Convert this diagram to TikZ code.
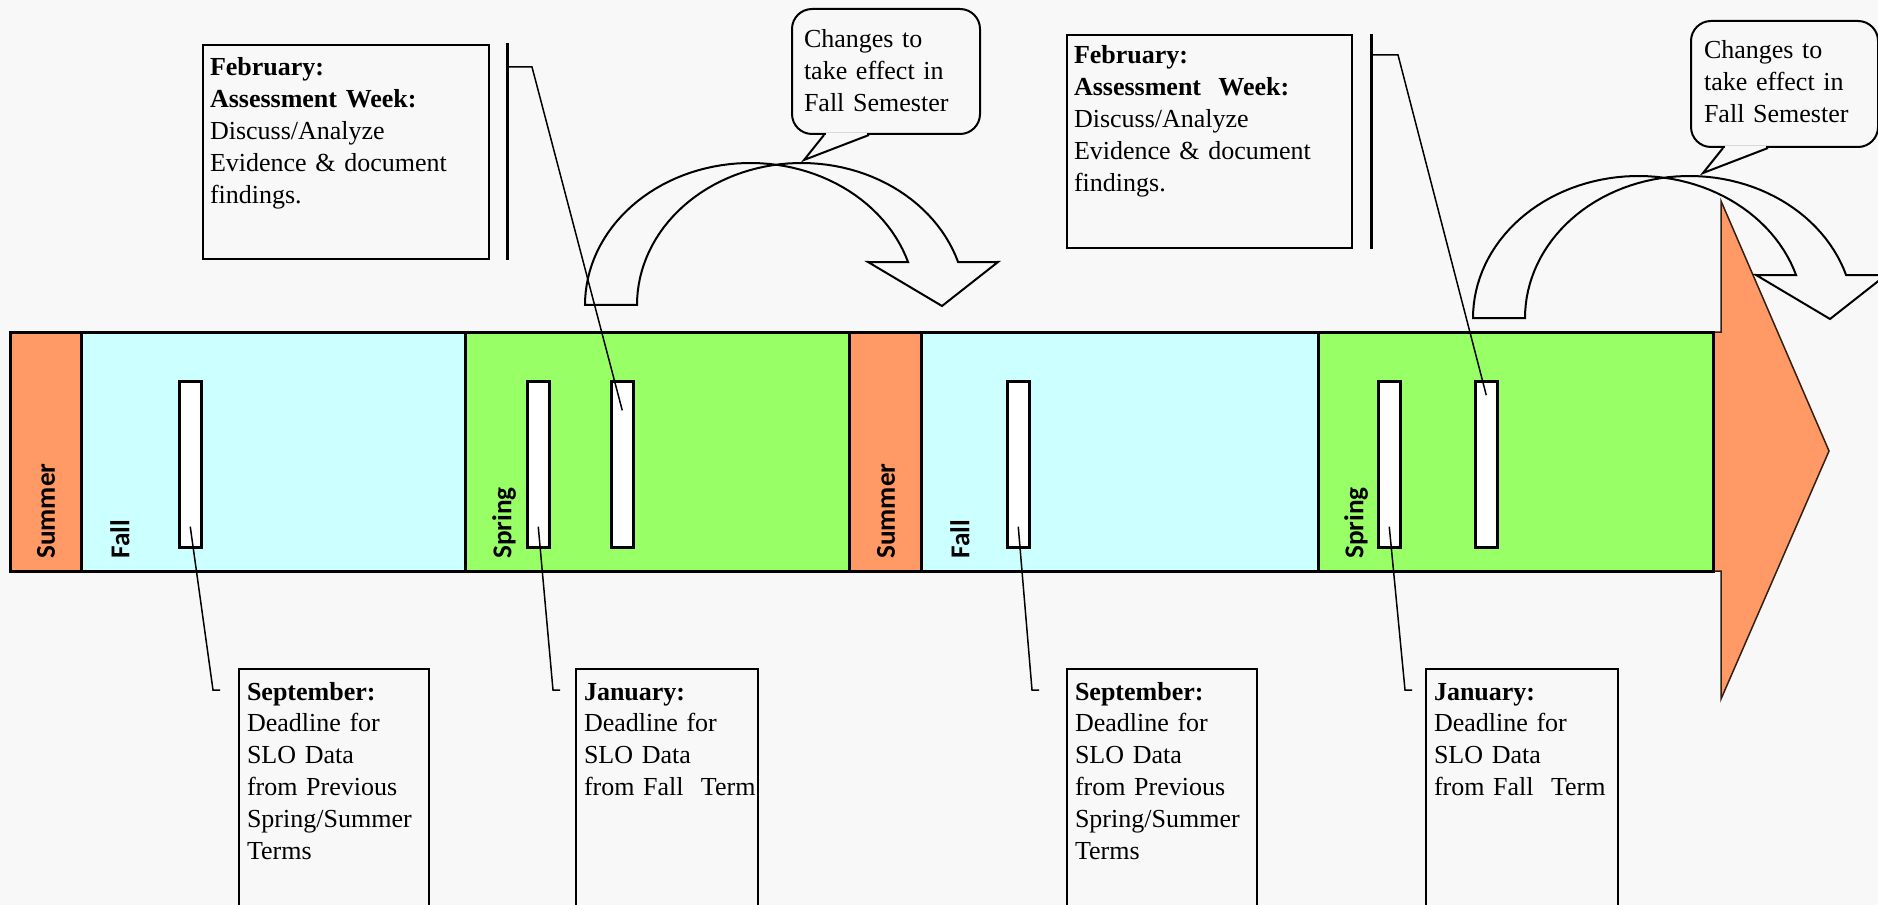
\documentclass[tikz,border=0pt]{standalone}
\usepackage{fontspec}
\setmainfont{Liberation Serif}
\newfontfamily\termfont{Carlito}
\usetikzlibrary{calc, positioning}

\definecolor{summerc}{HTML}{FF9966}
\definecolor{fallc}{HTML}{CCFFFF}
\definecolor{springc}{HTML}{99FF66}
\definecolor{backg}{HTML}{F8F8F8}

\newdimen\pxu
\pxu=0.02cm

\begin{document}
\begin{tikzpicture}[x=0.02cm, y=-0.02cm,
    seg/.style={draw, line width=3\pxu},
    datebar/.style={draw, fill=white, line width=2.5\pxu, anchor=north west,
        minimum width=22\pxu, minimum height=166\pxu, inner sep=0pt},
    term/.style={rotate=90, anchor=west, inner sep=0pt,
        font=\termfont\bfseries\fontsize{15.5}{17}\selectfont},
    note/.style={draw, line width=2\pxu, anchor=north west, align=left,
        inner xsep=8\pxu, inner ysep=0pt, text height=31\pxu,
        font=\fontsize{14.8}{18.2}\selectfont},
    bubble/.style={note, rounded corners=20\pxu, inner xsep=12\pxu},
    leader/.style={line width=1.5\pxu},
    bracket/.style={line width=3\pxu},
    bentarrow/.style={line width=2\pxu, line join=miter}]

    % Page
    \useasboundingbox (0,0) rectangle (1878,905);
    \clip (0,0) rectangle (1878,905);
    \fill[backg] (0,0) rectangle (1878,905);

    % Timeline arrow head
    \filldraw[fill=summerc, draw=black!80!summerc, line width=1.5\pxu]
        (1700,332) -- (1721,332) -- (1721,201) -- (1829,451)
        -- (1721,699) -- (1721,571) -- (1700,571) -- cycle;

    % Terms
    \filldraw[seg, fill=summerc] (10,332) rectangle (81,571);
    \filldraw[seg, fill=fallc] (81,332) rectangle (465,571);
    \filldraw[seg, fill=springc] (465,332) rectangle (849,571);
    \filldraw[seg, fill=summerc] (849,332) rectangle (921,571);
    \filldraw[seg, fill=fallc] (921,332) rectangle (1318,571);
    \filldraw[seg, fill=springc] (1318,332) rectangle (1713,571);

    \node[term] (sum1) at (46,559) {Summer};
    \node[term] (fall1) at (120,559) {Fall};
    \node[term] (spr1) at (504,559) {Spring};
    \node[term] (sum2) at (886,559) {Summer};
    \node[term] (fall2) at (960,559) {Fall};
    \node[term] (spr2) at (1356,559) {Spring};

    % Deadlines and assessment weeks
    \node[datebar] (m1) at (178,380) {};
    \node[datebar] (m2) at (526,380) {};
    \node[datebar] (m3) at (610,380) {};
    \node[datebar] (m4) at (1006,380) {};
    \node[datebar] (m5) at (1377,380) {};
    \node[datebar] (m6) at (1474,380) {};

    % Assessment notes
    \node[note, inner xsep=7\pxu, text width=272\pxu, text depth=183\pxu] (feb1) at (202,44)
        {\textbf{February:}\\ \textbf{Assessment Week:}\\ Discuss/Analyze\\ Evidence \& document\\ findings.};
    \node[note, inner xsep=7\pxu, text width=271\pxu, text height=29\pxu, text depth=184\pxu] (feb2) at (1066,34)
        {\textbf{February:}\\ \textbf{Assessment\ \ Week:}\\ Discuss/Analyze\\ Evidence \& document\\ findings.};

    \draw[bracket] ($(feb1.north east)+(17,-1)$) -- ($(feb1.south east)+(17,0)$);
    \draw[leader] ($(feb1.north east)+(17,23)$) -- ++(25,0) -- ($(m3.north)!0.18!(m3.south)$);
    \draw[bracket] ($(feb2.north east)+(18,0)$) -- ($(feb2.south east)+(18,0)$);
    \draw[leader] ($(feb2.north east)+(18,21)$) -- ++(27,0) -- ($(m6.north)!0.09!(m6.south)$);

    % Deadline notes
    \node[note, text width=174\pxu, text depth=231\pxu] (sep1) at (238,668)
        {\textbf{September:}\\ Deadline for\\ SLO Data\\ from Previous\\ \mbox{Spring/Summer}\\ Terms};
    \node[note, text width=166\pxu, text depth=231\pxu] (jan1) at (575,668)
        {\textbf{January:}\\ Deadline for\\ SLO Data\\ \mbox{from Fall\ \ Term}};
    \node[note, text width=174\pxu, text depth=231\pxu] (sep2) at (1066,668)
        {\textbf{September:}\\ Deadline for\\ SLO Data\\ from Previous\\ \mbox{Spring/Summer}\\ Terms};
    \node[note, text width=176\pxu, text depth=231\pxu] (jan2) at (1425,668)
        {\textbf{January:}\\ Deadline for\\ SLO Data\\ \mbox{from Fall\ \ Term}};

    \foreach \m/\b/\dx in {m1/sep1/25, m2/jan1/22, m4/sep2/34, m5/jan2/20}
        \draw[leader] ($(\m.north)!0.87!(\m.south)$) -- ($(\b.north west)+(-\dx,22)$) -- ++(7,0);

    % Curved arrows
    \foreach \dx/\dy in {0/0, 888/13}
        \draw[bentarrow, shift={(\dx,\dy)}]
            plot[domain=180:17.6, samples=60] ({750.4+165.4*cos(\x)}, {305-142*sin(\x)})
            -- (868,262) -- (942,306) -- (998,262)
            -- plot[domain=17.6:180, samples=60] ({801.4+164.4*cos(\x)}, {305-142*sin(\x)})
            -- cycle;

    % Callouts
    \node[bubble, text width=164\pxu, text height=39\pxu, text depth=86\pxu] (chg1) at (791,8)
        {Changes to\\ take effect in\\ Fall Semester};
    \node[bubble, text width=161\pxu, inner xsep=13\pxu, text height=38\pxu, text depth=88\pxu] (chg2) at (1690,20)
        {Changes to\\ take effect in\\ Fall Semester};
    \foreach \c in {chg1, chg2} {
        \coordinate (\c tip) at ($(\c.south west)+(13,25)$);
        \fill[backg] ($(\c.south west)+(35,-2)$) rectangle ($(\c.south west)+(76,2)$);
        \draw[line width=2\pxu, line join=miter]
            ($(\c.south west)+(33,0)$) -- (\c tip) -- ($(\c.south west)+(78,0)$);
    }
\end{tikzpicture}
\end{document}
